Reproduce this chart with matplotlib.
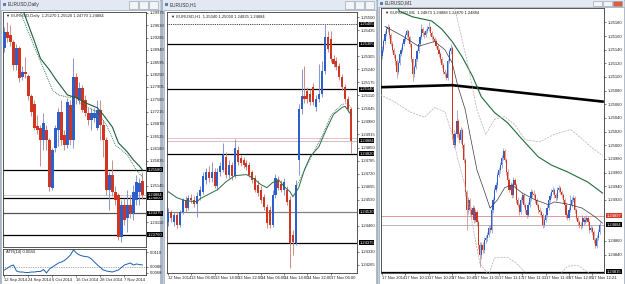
import matplotlib
matplotlib.use("Agg")
import matplotlib.pyplot as plt
from matplotlib.patches import Rectangle
import numpy as np

plt.rcParams['font.family'] = ['Liberation Sans', 'DejaVu Sans']

W, H = 625, 284

# ---------------- EURUSD Daily (prices) ----------------
d_open = [1.2900, 1.2944, 1.2936, 1.2916, 1.2852, 1.2900, 1.2818, 1.2832, 1.2821, 1.2765,
          1.2743, 1.2681, 1.2676, 1.2642, 1.2670, 1.2642, 1.2508, 1.2620, 1.2670, 1.2720,
          1.2656, 1.2628, 1.2740, 1.2642, 1.2818, 1.2754, 1.2788, 1.2754, 1.2718, 1.2698,
          1.2704, 1.2676, 1.2726, 1.2684, 1.2642, 1.2502, 1.2544, 1.2496, 1.2488, 1.2370,
          1.2460, 1.2424, 1.2460, 1.2438, 1.2474, 1.2496, 1.2527]
d_high = [1.2958, 1.2972, 1.2964, 1.2922, 1.2911, 1.2905, 1.2849, 1.2874, 1.2827, 1.2771,
          1.2754, 1.2712, 1.2684, 1.2718, 1.2684, 1.2648, 1.2620, 1.2684, 1.2732, 1.2754,
          1.2670, 1.2760, 1.2754, 1.2872, 1.2830, 1.2804, 1.2796, 1.2768, 1.2732, 1.2732,
          1.2732, 1.2754, 1.2754, 1.2698, 1.2650, 1.2552, 1.2586, 1.2513, 1.2494, 1.2474,
          1.2480, 1.2502, 1.2488, 1.2516, 1.2544, 1.2536, 1.2552]
d_low = [1.2888, 1.2916, 1.2905, 1.2838, 1.2838, 1.2804, 1.2810, 1.2816, 1.2754, 1.2709,
         1.2670, 1.2659, 1.2569, 1.2614, 1.2614, 1.2499, 1.2502, 1.2608, 1.2625, 1.2628,
         1.2614, 1.2620, 1.2628, 1.2620, 1.2743, 1.2743, 1.2720, 1.2709, 1.2684, 1.2670,
         1.2692, 1.2670, 1.2642, 1.2594, 1.2488, 1.2446, 1.2485, 1.2460, 1.2362, 1.2356,
         1.2404, 1.2384, 1.2424, 1.2418, 1.2460, 1.2460, 1.2477]
d_close = [1.2944, 1.2928, 1.2916, 1.2852, 1.2900, 1.2816, 1.2832, 1.2827, 1.2765, 1.2720,
           1.2676, 1.2670, 1.2642, 1.2690, 1.2642, 1.2510, 1.2614, 1.2676, 1.2720, 1.2642,
           1.2628, 1.2748, 1.2642, 1.2818, 1.2760, 1.2788, 1.2726, 1.2718, 1.2698, 1.2718,
           1.2718, 1.2726, 1.2684, 1.2642, 1.2502, 1.2544, 1.2496, 1.2474, 1.2370, 1.2460,
           1.2418, 1.2460, 1.2438, 1.2496, 1.2524, 1.2521, 1.24884]
d_ma_idx = [6, 10, 12, 15, 17, 21, 24, 27, 31, 33, 36, 38, 41, 43, 45, 46]
d_ma = [1.3009, 1.2918, 1.2870, 1.2838, 1.2813, 1.2768, 1.2760, 1.2746, 1.2732, 1.2712,
        1.2678, 1.2634, 1.2608, 1.2586, 1.2569, 1.2558]
d_ma2_idx = [5, 10, 16, 18, 21, 24, 26, 31, 34, 37, 41, 44, 46]
d_ma2 = [1.3006, 1.2902, 1.2782, 1.2768, 1.2762, 1.2760, 1.2740, 1.2720, 1.2684, 1.2628,
         1.2600, 1.2558, 1.2538]
d_atr = [0.0074, 0.0078, 0.0082, 0.0084, 0.0072, 0.0070, 0.0070, 0.0069, 0.0069, 0.0070,
         0.0070, 0.0071, 0.0071, 0.0075, 0.0068, 0.0076, 0.0080, 0.0084, 0.0088, 0.0090,
         0.0093, 0.0098, 0.0104, 0.0114, 0.0108, 0.0104, 0.0102, 0.0101, 0.0100, 0.0096,
         0.0090, 0.0084, 0.0079, 0.0074, 0.0072, 0.0071, 0.0070, 0.0072, 0.0074, 0.0079,
         0.0084, 0.0086, 0.0088, 0.0084, 0.0086, 0.0085, 0.0084]
d_atr_level = 0.0080
d_levels = [1.25580, 1.24800, 1.23760]
d_level_gray = 1.24375
d_date_idx = [0, 8, 16, 24, 32, 40]
d_dates = ["12 Sep 2014", "24 Sep 2014", "6 Oct 2014", "16 Oct 2014", "28 Oct 2014", "7 Nov 2014"]

bid, ask = 1.24884, 1.24897

# ---------------- EURUSD H1 (points above 1.24000) ----------------
H1_BASE = 1.24000
h_open = [480, 530, 480, 515, 465, 530, 590, 550, 600, 590, 570, 610, 630, 690, 730, 700,
          730, 660, 730, 740, 805, 715, 765, 710, 840, 800, 790, 775, 765, 730, 700, 665,
          640, 605, 555, 540, 465, 615, 690, 670, 640, 640, 590, 415, 375, 790, 1040, 1105,
          1130, 1115, 1150, 1050, 1090, 1115, 1230, 1400, 1390, 1290, 1280, 1255, 1200, 1150,
          1090, 1040]
h_high = [550, 540, 530, 530, 540, 600, 610, 615, 620, 610, 630, 660, 730, 750, 760, 780,
          750, 750, 780, 875, 830, 790, 780, 890, 860, 815, 805, 790, 780, 740, 715, 690,
          660, 620, 570, 560, 640, 720, 710, 690, 700, 660, 610, 440, 690, 1065, 1240, 1255,
          1150, 1140, 1170, 1110, 1265, 1280, 1465, 1430, 1430, 1310, 1300, 1270, 1215, 1165,
          1105, 1050]
h_low = [460, 480, 460, 450, 455, 520, 530, 540, 575, 555, 505, 590, 620, 670, 680, 680,
         650, 640, 710, 730, 700, 700, 690, 700, 765, 760, 750, 740, 705, 675, 630, 610,
         575, 540, 450, 450, 455, 600, 640, 630, 615, 565, 250, 315, 365, 715, 1015, 1070,
         1070, 1060, 1060, 1030, 1075, 1100, 1215, 1325, 1275, 1250, 1235, 1185, 1135, 1075,
         1025, 825]
h_close = [530, 500, 515, 465, 530, 590, 550, 600, 590, 570, 610, 640, 710, 730, 700, 730,
           660, 730, 760, 815, 715, 765, 710, 850, 780, 775, 765, 755, 715, 690, 640, 625,
           590, 555, 475, 465, 615, 700, 650, 640, 680, 580, 375, 380, 665, 1040, 1105, 1090,
           1090, 1075, 1075, 1090, 1115, 1230, 1400, 1340, 1290, 1265, 1250, 1200, 1150, 1090,
           1040, 884]
h_ma_idx = [0, 3, 6, 10, 11, 15, 17, 20, 23, 27, 29, 32, 34, 36, 38, 40, 42, 43, 45, 47,
            49, 52, 53, 55, 57, 60, 61, 63]
h_ma = [630, 600, 585, 580, 595, 625, 640, 680, 710, 715, 700, 665, 650, 675, 690, 655,
        630, 605, 650, 740, 805, 855, 890, 955, 1015, 1050, 1055, 1015]
h_ma2_idx = [44, 48, 51, 53, 56, 58, 60, 62, 63]
h_ma2 = [650, 765, 850, 905, 1005, 1040, 1065, 1070, 1050]
h_high_line = 1.25465
h_levels = [1.25365, 1.25140, 1.24820, 1.24375]
h_level_gray = 1.24530
h_date_idx = [0, 8, 16, 24, 32, 40, 48, 56]
h_dates = ["12 Nov 2014", "13 Nov 06:00", "13 Nov 14:00", "13 Nov 22:00",
           "14 Nov 06:00", "14 Nov 14:00", "14 Nov 22:00", "17 Nov 06:00"]

# ---------------- EURUSD M1 (points above 1.24800) ----------------
M1_BASE = 1.24800
m_first_open = 330
m_close = [340, 352, 363, 370, 373, 361, 349, 340, 332, 323,
           308, 320, 333, 340, 348, 355, 361, 367, 358, 348,
           326, 304, 314, 326, 338, 348, 358, 370, 364, 361,
           367, 370, 373, 364, 358, 355, 352, 346, 340, 333,
           326, 317, 308, 304, 299, 323, 338, 343, 216, 201,
           216, 235, 216, 208, 223, 201, 179, 132, 105, 120,
           105, 98, 108, 91, 102, 88, 54, 39, 54, 47,
           61, 64, 69, 79, 76, 105, 120, 135, 142, 157,
           164, 171, 182, 191, 179, 161, 149, 135, 142, 127,
           149, 142, 120, 113, 102, 120, 127, 113, 105, 98,
           113, 123, 132, 129, 127, 120, 113, 105, 102, 98,
           83, 91, 98, 108, 120, 126, 132, 135, 127, 123,
           135, 138, 132, 127, 120, 113, 98, 94, 105, 113,
           120, 123, 105, 94, 88, 83, 82, 94, 88, 91,
           94, 88, 76, 79, 73, 61, 52, 64, 73, 84]
m_high = [345, 356, 367, 374, 377, 375, 364, 352, 343, 335,
          326, 323, 336, 344, 351, 358, 364, 370, 369, 360,
          350, 328, 318, 329, 341, 351, 361, 377, 373, 367,
          370, 374, 380, 375, 367, 361, 358, 355, 349, 343,
          336, 329, 320, 311, 307, 326, 341, 348, 345, 222,
          220, 252, 238, 220, 227, 226, 204, 182, 135, 124,
          123, 109, 112, 111, 106, 105, 91, 58, 58, 58,
          65, 68, 73, 83, 83, 109, 124, 139, 146, 161,
          168, 175, 186, 196, 194, 182, 165, 152, 146, 145,
          153, 152, 145, 124, 116, 124, 131, 130, 116, 108,
          117, 127, 136, 135, 135, 130, 123, 116, 109, 105,
          101, 95, 102, 112, 124, 130, 136, 139, 138, 130,
          139, 142, 141, 135, 130, 123, 116, 101, 109, 127,
          124, 127, 126, 108, 97, 91, 87, 98, 97, 95,
          98, 97, 91, 83, 82, 76, 64, 68, 77, 88]
m_low = [326, 337, 349, 360, 366, 357, 345, 336, 328, 318,
         299, 305, 317, 330, 337, 345, 352, 358, 354, 344,
         322, 294, 300, 311, 323, 335, 345, 355, 360, 357,
         358, 364, 367, 360, 354, 351, 348, 342, 336, 329,
         322, 313, 304, 300, 296, 296, 320, 334, 208, 196,
         197, 212, 210, 203, 204, 196, 174, 126, 76, 100,
         100, 93, 94, 86, 87, 82, 48, 22, 34, 42,
         43, 57, 60, 65, 72, 72, 101, 116, 131, 138,
         153, 160, 167, 178, 175, 157, 145, 131, 131, 123,
         124, 138, 116, 109, 98, 99, 116, 109, 101, 94,
         95, 110, 119, 125, 123, 116, 109, 101, 98, 94,
         79, 80, 88, 95, 105, 117, 123, 129, 123, 119,
         120, 132, 128, 123, 116, 109, 94, 90, 91, 102,
         110, 117, 101, 90, 84, 79, 78, 79, 84, 85,
         88, 84, 72, 73, 69, 57, 49, 49, 61, 70]
m_trend_idx = [-1, 48, 151]
m_trend = [285, 288, 264]
m_slow_idx = [10, 12, 21, 34, 41, 48, 55, 62, 68, 77, 86, 95, 107, 116, 127, 141, 151]
m_slow = [405, 396, 388, 382, 370, 352, 329, 301, 271, 248, 233, 211, 183, 171, 161, 146, 130]
m_fast_idx = [2, 14, 25, 36, 43, 48, 52, 57, 60, 65, 71, 74, 79, 84, 89, 96, 105, 114, 118,
              127, 137, 146, 151]
m_fast = [374, 360, 345, 352, 340, 321, 286, 252, 218, 164, 127, 108, 120, 138, 142, 130,
          120, 113, 117, 114, 108, 95, 86]
m_up_idx = [47, 50, 59, 65, 71, 77, 84, 91, 98, 108, 118, 129, 136, 144, 151]
m_up = [430, 399, 316, 252, 216, 238, 242, 230, 208, 205, 216, 223, 211, 196, 185]
m_dn_idx = [-1, 9, 19, 29, 36, 43, 48, 52, 57, 62, 67, 73, 77, 86, 91, 100, 118, 127, 134,
            141, 151]
m_dn = [274, 263, 249, 241, 255, 249, 216, 179, 139, 83, 27, 10, 35, 36, 29, 10, 2, 23, 24,
        14, -5]
m_level = 1.24815
m_date_idx = [0, 16, 32, 48, 64, 80, 96, 112, 128, 144]
m_dates = ["17 Nov 2014", "17 Nov 10:13", "17 Nov 10:29", "17 Nov 10:45", "17 Nov 11:01",
           "17 Nov 11:17", "17 Nov 11:33", "17 Nov 11:49", "17 Nov 12:05", "17 Nov 12:21"]

FS = 3.0
UP, DN = "#2a5fcc", "#cf3520"


def frac(x0, y0, x1, y1):
    return [x0 / W, 1 - y1 / H, (x1 - x0) / W, (y1 - y0) / H]


def rect(x0, y0, x1, y1, **kw):
    l, b, w, h = frac(x0, y0, x1, y1)
    fig.add_artist(Rectangle((l, b), w, h, transform=fig.transFigure, zorder=-10, **kw))


def candles(ax, o, h, l, c, width, lw=0.65):
    o, h, l, c = (np.asarray(a, float) for a in (o, h, l, c))
    x = np.arange(len(c))
    bull = c >= o
    ax.vlines(x[bull], l[bull], h[bull], colors="#7f8fcc", lw=lw, zorder=2)
    ax.vlines(x[~bull], l[~bull], h[~bull], colors="#c58580", lw=lw, zorder=2)
    lo = np.minimum(o, c)
    ht = np.maximum(np.abs(c - o), (h.max() - l.min()) * 0.005)
    ax.bar(x[bull], ht[bull], bottom=lo[bull], width=width, color=UP, lw=0, zorder=3)
    ax.bar(x[~bull], ht[~bull], bottom=lo[~bull], width=width, color=DN, lw=0, zorder=3)


def style(ax, xlim, ylim, yticks, fmt, tags=(), px_h=100):
    ax.set_xlim(*xlim)
    ax.set_ylim(*ylim)
    ax.set_facecolor("white")
    for s in ax.spines.values():
        s.set_color("#3a3a3a")
        s.set_linewidth(0.6)
    ax.yaxis.tick_right()
    # drop tick labels hidden behind the price boxes
    gap = (ylim[1] - ylim[0]) / px_h * 6
    keep = [v for v in yticks if all(abs(v - t) > gap for t in tags)]
    ax.set_yticks(keep)
    ax.set_yticklabels([fmt.format(v) for v in keep])
    ax.tick_params(axis="both", labelsize=FS, length=1.5, width=0.4, pad=1.0,
                   colors="#202020")


def dates(ax, idx, labels):
    ax.set_xticks(idx)
    ax.set_xticklabels(labels)
    for t in ax.get_xticklabels():
        t.set_ha("left")


def tag(ax, v, fc="black"):
    ax.text(1.012, v, "{:.5f}".format(v), transform=ax.get_yaxis_transform(),
            ha="left", va="center", fontsize=FS, color="white", zorder=6, clip_on=False,
            bbox=dict(boxstyle="square,pad=0.12", fc=fc, ec="none"))


def header(ax, name, o, h, l, c):
    ax.text(0.02, 0.992, "\u25bc {}  {:.5f} {:.5f} {:.5f} {:.5f}".format(name, o, h, l, c),
            transform=ax.transAxes, ha="left", va="top", fontsize=FS, color="#202020")


fig = plt.figure(figsize=(W / 100, H / 100), dpi=100)
fig.patch.set_facecolor("#c9d2de")

# window frames
windows = [(0, 161, 10, "EURUSD,Daily", "#f2f4f8"),
           (162, 377, 10, "EURUSD,H1", "#f2f4f8"),
           (377, 625, 7, "EURUSD,M1", "#d9603b")]
for x0, x1, th, title, close_c in windows:
    rect(x0, 0, x1, H, fc="#c4cedb", ec="#9eabbd", lw=0.5)
    rect(x0 + 1.5, th, x1 - 1.5, H, fc="white", ec="#8d99aa", lw=0.4)
    rect(x0 + 1, 0, x1 - 1, th, fc="#e3e9f2", ec="none")
    rect(x0 + 3, th / 2 - 2, x0 + 6, th / 2 + 1, fc="#5a7fb8", ec="none")
    fig.text((x0 + 8) / W, 1 - (th / 2 - 0.3) / H, title, fontsize=3.4, va="center",
             color="#303030")
    for k, fc in enumerate(["#f2f4f8", "#f2f4f8", close_c]):
        bx = x1 - 32 + k * 10
        rect(bx, 1.2, bx + 9, th - 1.5, fc=fc, ec="#8d99aa", lw=0.4)

# ---- panel 1: daily ----
ax1 = fig.add_axes(frac(3, 12, 146, 247))
candles(ax1, d_open, d_high, d_low, d_close, 0.75)
ax1.plot(d_ma_idx, d_ma, color="#1d5e3a", lw=0.8, zorder=4)
ax1.plot(d_ma2_idx, d_ma2, color="#1d5e3a", lw=0.6, ls=(0, (1, 1.2)), zorder=4)
for v in d_levels:
    ax1.axhline(v, color="black", lw=0.9, zorder=1)
ax1.axhline(d_level_gray, color="#555555", lw=0.9, zorder=1)
ax1.axhline(bid, color="#c4c4c4", lw=0.6, zorder=1)
d_tags = d_levels + [d_level_gray, bid]
d_ticks = 1.29975 - 0.00345 * np.arange(19)
style(ax1, (-0.5, 47.2), (1.23423, 1.30003), d_ticks, "{:.5f}", d_tags, 235)
ax1.set_xticks([])
for v in d_tags:
    tag(ax1, v)
header(ax1, "EURUSD,Daily", d_open[-1], d_high[-1], d_low[-1], d_close[-1])

ax1a = fig.add_axes(frac(3, 249, 146, 275))
ax1a.plot(np.arange(len(d_atr)), d_atr, color="#1e5fb4", lw=0.7)
ax1a.axhline(d_atr_level, color="#606060", lw=0.5, ls=(0, (1, 1.5)))
style(ax1a, (-0.5, 47.2), (0.0064, 0.0116), [0.0110, d_atr_level, 0.0068], "{:.4f}")
dates(ax1a, d_date_idx, d_dates)
ax1a.text(0.02, 0.95, "ATR(14) {:.4f}".format(d_atr[-1]), transform=ax1a.transAxes,
          ha="left", va="top", fontsize=FS, color="#202020")

# ---- panel 2: H1 ----
ax2 = fig.add_axes(frac(167, 12, 357, 273))
h1 = lambda a: H1_BASE + np.asarray(a, float) / 1e5
candles(ax2, h1(h_open), h1(h_high), h1(h_low), h1(h_close), 0.7)
ax2.plot(h_ma_idx, h1(h_ma), color="#2e6b47", lw=0.7, zorder=4)
ax2.plot(h_ma2_idx, h1(h_ma2), color="#2e6b47", lw=0.6, ls=(0, (1, 1.2)), zorder=4)
ax2.axhline(h_high_line, color="black", lw=0.6, ls=(0, (1, 1.2)), zorder=1)
for v in h_levels:
    ax2.axhline(v, color="black", lw=0.9, zorder=1)
ax2.axhline(h_level_gray, color="#808080", lw=0.9, zorder=1)
ax2.axhline(ask, color="#e3b9b9", lw=0.6, zorder=1)
ax2.axhline(bid, color="#c9b3b3", lw=0.6, zorder=1)
h_tags = [h_high_line] + h_levels + [h_level_gray, bid]
h_ticks = 1.25500 - 0.00065 * np.arange(20)
style(ax2, (-0.4, 65.1), (1.24225, 1.25525), h_ticks, "{:.5f}", h_tags, 261)
dates(ax2, h_date_idx, h_dates)
for v in h_tags:
    tag(ax2, v)
header(ax2, "EURUSD,H1", h1(h_open)[-1], h1(h_high)[-1], h1(h_low)[-1], h1(h_close)[-1])

# ---- panel 3: M1 ----
ax3 = fig.add_axes(frac(381, 8, 604, 273))
m1 = lambda a: M1_BASE + np.asarray(a, float) / 1e5
m_open = [m_first_open] + m_close[:-1]
candles(ax3, m1(m_open), m1(m_high), m1(m_low), m1(m_close), 0.8, lw=0.5)
ax3.plot(m_trend_idx, m1(m_trend), color="black", lw=1.9, zorder=4)
ax3.plot(m_slow_idx, m1(m_slow), color="#1f6b3a", lw=0.8, zorder=4)
ax3.plot(m_fast_idx, m1(m_fast), color="#3a3a3a", lw=0.5, zorder=4)
ax3.plot(m_up_idx, m1(m_up), color="#b9a9b0", lw=0.5, ls=(0, (3, 1.5)), zorder=4)
ax3.plot(m_dn_idx, m1(m_dn), color="#b9a9b0", lw=0.5, ls=(0, (3, 1.5)), zorder=4)
ax3.axhline(ask, color="#d88c8c", lw=0.6, zorder=1)
ax3.axhline(bid, color="#a8a8a8", lw=0.6, zorder=1)
ax3.axhline(m_level, color="black", lw=0.9, zorder=1)
m_ticks = 1.25180 - 0.00020 * np.arange(19)
style(ax3, (-0.7, 152.0), (1.24813, 1.25201), m_ticks, "{:.5f}", [ask, bid, m_level], 265)
dates(ax3, m_date_idx, m_dates)
tag(ax3, ask, "#d23a2a")
tag(ax3, bid)
tag(ax3, m_level)
header(ax3, "EURUSD,M1", m1(m_open)[-1], m1(m_high)[-1], m1(m_low)[-1], m1(m_close)[-1])

fig.savefig("out.png", dpi=100, facecolor=fig.get_facecolor())
